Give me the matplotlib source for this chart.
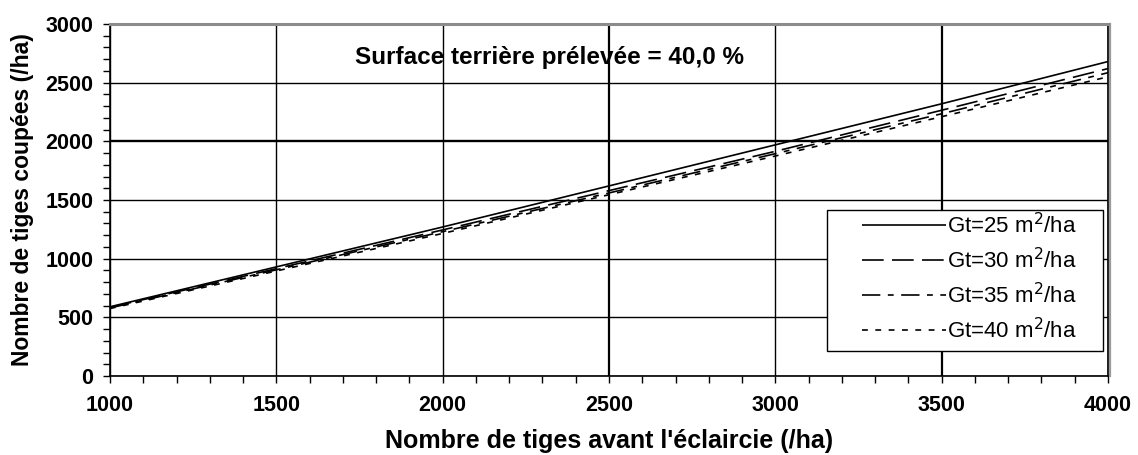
import matplotlib
matplotlib.use("Agg")
import matplotlib.pyplot as plt
import numpy as np
from matplotlib.ticker import MultipleLocator
from matplotlib.legend_handler import HandlerLine2D
from matplotlib.patches import Rectangle

plt.rcParams['font.family'] = ['Liberation Sans', 'DejaVu Sans']

n_avant = [1000, 1500, 2000, 2500, 3000, 3500, 4000]
gt25 = [590, 930, 1270, 1620, 1970, 2320, 2680]
gt30 = [585, 915, 1245, 1580, 1915, 2265, 2620]
gt35 = [580, 905, 1230, 1560, 1895, 2235, 2585]
gt40 = [575, 895, 1215, 1545, 1875, 2210, 2550]
labels = ["Gt=25 m$^2$/ha", "Gt=30 m$^2$/ha", "Gt=35 m$^2$/ha", "Gt=40 m$^2$/ha"]


class RightHandler(HandlerLine2D):
    """Draw the legend line only on the right part of the handle box."""
    def __init__(self, linelen, **kw):
        super().__init__(**kw)
        self.linelen = linelen

    def get_xdata(self, legend, xdescent, ydescent, width, height, fontsize):
        xd = np.array([-xdescent + width - self.linelen, -xdescent + width])
        return xd, xd


fig = plt.figure(figsize=(11.38, 4.55), dpi=100)
ax = fig.add_axes([110/1138, 1-376/455, 998/1138, 352/455])

styles = [(0, ()), (0, (13, 5)), (0, (11, 4.5, 3.5, 4.5)), (0, (3.5, 4.5))]
lines = []
for ys, lab, ls in zip([gt25, gt30, gt35, gt40], labels, styles):
    ln, = ax.plot(n_avant, ys, color='black', lw=1.2, linestyle=ls, label=lab)
    lines.append(ln)

ax.set_xlim(1000, 4000)
ax.set_ylim(0, 3000)
ax.xaxis.set_major_locator(MultipleLocator(500))
ax.xaxis.set_minor_locator(MultipleLocator(100))
ax.yaxis.set_major_locator(MultipleLocator(500))
ax.yaxis.set_minor_locator(MultipleLocator(100))
ax.grid(True, which='major', color='black', lw=1.0)
ax.tick_params(which='both', direction='out', length=5, width=1, color='black')
ax.tick_params(axis='both', which='major', labelsize=15.5)
ax.tick_params(axis='x', pad=9)
ax.tick_params(axis='y', pad=7)
for lab in ax.get_xticklabels() + ax.get_yticklabels():
    lab.set_fontweight('bold')
    lab.set_fontsize(15.5)

# a few grid lines appear heavier in the original rendering
for tick in ax.yaxis.get_major_ticks():
    if abs(tick.get_loc() - 2000) < 1e-6:
        tick.gridline.set_linewidth(1.7)
for tick in ax.xaxis.get_major_ticks():
    if abs(tick.get_loc() - 2500) < 1e-6 or abs(tick.get_loc() - 3500) < 1e-6:
        tick.gridline.set_linewidth(1.6)

ax.spines['top'].set_color('#8c8c8c')
ax.spines['top'].set_linewidth(2.2)
for s in ['left', 'bottom', 'right']:
    ax.spines[s].set_color('black')
    ax.spines[s].set_linewidth(1.2)
# light grey frame edge just right of the plot
ax.plot([1.0025, 1.0025], [0, 1.0], color='#9a9a9a', lw=1.6, transform=ax.transAxes, clip_on=False)

ax.set_xlabel("Nombre de tiges avant l'éclaircie (/ha)", fontsize=18, fontweight='bold', labelpad=9)
ax.set_ylabel("Nombre de tiges coupées (/ha)", fontsize=16.5, fontweight='bold', labelpad=8)

ax.text(0.245, 0.906, "Surface terrière prélevée = 40,0 %", transform=ax.transAxes,
        fontsize=17.5, fontweight='bold', va='center', ha='left')

# legend frame
ax.add_patch(Rectangle((0.7184, 0.071), 0.995 - 0.7184, 0.4716 - 0.071, transform=ax.transAxes,
                       facecolor='white', edgecolor='black', lw=1.0, zorder=4))

hmap = {ln: RightHandler(61) for ln in lines}
leg = ax.legend(loc='upper right', bbox_to_anchor=(0.969, 0.463), fontsize=16,
                handlelength=3.9, handletextpad=0.05, frameon=False,
                borderpad=0, labelspacing=0.44, borderaxespad=0, handler_map=hmap)
leg.set_zorder(5)

fig.savefig("out.png", dpi=100)
